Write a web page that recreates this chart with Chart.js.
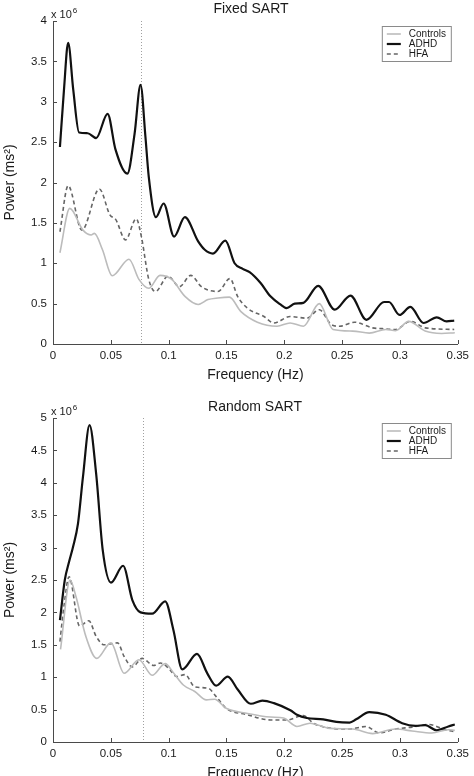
<!DOCTYPE html>
<html lang="en">
<head>
<meta charset="UTF-8">
<title>HRV power spectra - Fixed and Random SART</title>
<script src="https://cdn.jsdelivr.net/npm/chart.js"></script>
<style>
  html, body { margin: 0; padding: 0; background: #fff; overflow: hidden; }
  .panel { position: absolute; left: 0; width: 474px; }
  #fixedPanel { top: 0; height: 390px; }
  #randomPanel { top: 390px; height: 398px; }
</style>
</head>
<body>
<div class="panel" id="fixedPanel"><canvas id="fixedChart" width="474" height="390"></canvas></div>
<div class="panel" id="randomPanel"><canvas id="randomChart" width="474" height="398"></canvas></div>

<script>
// tick labels
const xTicks = [0, 0.05, 0.1, 0.15, 0.2, 0.25, 0.3, 0.35];
const fixedYTicks = [0, 0.5, 1, 1.5, 2, 2.5, 3, 3.5, 4];
const randomYTicks = [0, 0.5, 1, 1.5, 2, 2.5, 3, 3.5, 4, 4.5, 5];

// dotted marker (Hz)
const fixedMarkerHz = 0.0757;
const randomMarkerHz = 0.078;

// Fixed SART, power in units of 10^6 ms^2
const fixedControlsHz = [0.006, 0.0145, 0.0259, 0.033, 0.0358, 0.0427, 0.0512, 0.0657, 0.0743, 0.0828, 0.0925, 0.1027, 0.1141, 0.1255, 0.134, 0.1426, 0.1525, 0.1625, 0.1767, 0.1937, 0.205, 0.2165, 0.2302, 0.2421, 0.2592, 0.2735, 0.2877, 0.2962, 0.3075, 0.3218, 0.336, 0.3474];
const fixedControlsPow = [1.13, 1.68, 1.41, 1.35, 1.37, 1.17, 0.845, 1.05, 0.80, 0.69, 0.85, 0.80, 0.59, 0.49, 0.55, 0.57, 0.58, 0.40, 0.27, 0.22, 0.26, 0.22, 0.50, 0.18, 0.16, 0.135, 0.18, 0.165, 0.28, 0.16, 0.13, 0.14];

const fixedAdhdHz = [0.006, 0.0095, 0.0131, 0.0175, 0.0225, 0.030, 0.0373, 0.0472, 0.054, 0.0643, 0.0705, 0.0757, 0.0799, 0.0828, 0.089, 0.0956, 0.1047, 0.114, 0.1255, 0.131, 0.1383, 0.149, 0.157, 0.164, 0.170, 0.1795, 0.188, 0.1966, 0.202, 0.209, 0.2165, 0.2293, 0.2436, 0.2572, 0.271, 0.2863, 0.2905, 0.2996, 0.309, 0.3204, 0.3318, 0.3403, 0.3469];
const fixedAdhdPow = [2.44, 3.15, 3.73, 3.15, 2.62, 2.61, 2.55, 2.85, 2.41, 2.11, 2.6, 3.21, 2.57, 2.07, 1.57, 1.74, 1.33, 1.57, 1.27, 1.17, 1.12, 1.28, 1.0, 0.93, 0.89, 0.755, 0.59, 0.49, 0.445, 0.5, 0.51, 0.72, 0.425, 0.60, 0.30, 0.52, 0.52, 0.36, 0.46, 0.26, 0.33, 0.28, 0.29];

const fixedHfaHz = [0.006, 0.0131, 0.025, 0.0401, 0.0492, 0.0543, 0.0627, 0.072, 0.0764, 0.0828, 0.0885, 0.0995, 0.1093, 0.1192, 0.1283, 0.1426, 0.153, 0.1596, 0.168, 0.1824, 0.191, 0.205, 0.2194, 0.2302, 0.2407, 0.2478, 0.2606, 0.2763, 0.2848, 0.2962, 0.309, 0.322, 0.3469];
const fixedHfaPow = [1.39, 1.96, 1.41, 1.92, 1.60, 1.54, 1.29, 1.55, 1.33, 0.80, 0.65, 0.84, 0.71, 0.85, 0.71, 0.65, 0.81, 0.59, 0.445, 0.34, 0.26, 0.34, 0.32, 0.425, 0.24, 0.22, 0.27, 0.20, 0.19, 0.18, 0.28, 0.20, 0.18];

// Random SART
const randomControlsHz = [0.0065, 0.0148, 0.0199, 0.0284, 0.0378, 0.0501, 0.0615, 0.0743, 0.0857, 0.097, 0.1041, 0.1127, 0.1226, 0.1326, 0.1397, 0.1497, 0.1682, 0.1881, 0.1994, 0.2109, 0.2222, 0.2393, 0.2592, 0.2763, 0.2962, 0.3104, 0.3275, 0.3418, 0.3474];
const randomControlsPow = [1.43, 2.50, 2.24, 1.63, 1.29, 1.53, 1.06, 1.27, 1.03, 1.21, 1.07, 0.88, 0.78, 0.65, 0.66, 0.52, 0.44, 0.385, 0.37, 0.24, 0.29, 0.21, 0.20, 0.13, 0.20, 0.17, 0.14, 0.19, 0.18];

const randomAdhdHz = [0.006, 0.0102, 0.0139, 0.0173, 0.0216, 0.0259, 0.0316, 0.0373, 0.043, 0.0501, 0.0606, 0.0686, 0.0757, 0.0857, 0.097, 0.1041, 0.1118, 0.1245, 0.1334, 0.1411, 0.1511, 0.1597, 0.171, 0.181, 0.191, 0.2052, 0.2109, 0.2194, 0.2336, 0.245, 0.2564, 0.2621, 0.2735, 0.2877, 0.3019, 0.3133, 0.3218, 0.3318, 0.3418, 0.3474];
const randomAdhdPow = [1.88, 2.5, 2.78, 3.01, 3.37, 4.09, 4.89, 4.14, 2.96, 2.46, 2.72, 2.19, 2.0, 1.98, 2.17, 1.73, 1.12, 1.36, 1.06, 0.87, 1.01, 0.81, 0.59, 0.64, 0.60, 0.49, 0.42, 0.37, 0.35, 0.31, 0.30, 0.35, 0.46, 0.42, 0.29, 0.25, 0.26, 0.18, 0.24, 0.27];

const randomHfaHz = [0.006, 0.0095, 0.0139, 0.023, 0.031, 0.0373, 0.0444, 0.0558, 0.0615, 0.0686, 0.0771, 0.0871, 0.0928, 0.0999, 0.107, 0.1141, 0.1226, 0.1341, 0.1411, 0.1497, 0.1682, 0.1881, 0.2023, 0.2165, 0.2251, 0.2393, 0.2564, 0.2706, 0.282, 0.2962, 0.3104, 0.3247, 0.3389, 0.3474];
const randomHfaPow = [1.55, 2.1, 2.55, 1.79, 1.87, 1.63, 1.50, 1.53, 1.32, 1.16, 1.29, 1.18, 1.22, 1.14, 1.01, 1.04, 0.85, 0.83, 0.70, 0.52, 0.42, 0.34, 0.34, 0.41, 0.29, 0.215, 0.20, 0.24, 0.14, 0.20, 0.23, 0.27, 0.19, 0.16];

const FONT = '"Liberation Sans", Arial, Helvetica, sans-serif';
const AXIS_COLOR = '#4a4a4a';
const TEXT_COLOR = '#1a1a1a';

function toPoints(hz, pow) {
    return hz.map((x, i) => ({ x: x, y: pow[i] }));
}

// MATLAB-ish decorations: inward ticks, dotted marker, title, exponent, legend box
const matlabDecor = {
    id: 'matlabDecor',
    beforeDatasetsDraw(chart, args, opts) {
        const ctx = chart.ctx;
        const area = chart.chartArea;
        const mx = chart.scales.x.getPixelForValue(opts.markerHz);
        ctx.save();
        ctx.strokeStyle = '#a0a0a0';
        ctx.lineWidth = 1;
        ctx.setLineDash([1, 2]);
        ctx.beginPath();
        ctx.moveTo(Math.round(mx) + 0.5, area.top);
        ctx.lineTo(Math.round(mx) + 0.5, area.bottom);
        ctx.stroke();
        ctx.restore();
    },
    afterDraw(chart, args, opts) {
        const ctx = chart.ctx;
        const area = chart.chartArea;
        const xs = chart.scales.x;
        const ys = chart.scales.y;
        ctx.save();

        // inward ticks
        ctx.strokeStyle = AXIS_COLOR;
        ctx.lineWidth = 1;
        ctx.beginPath();
        xTicks.forEach(v => {
            const px = Math.round(xs.getPixelForValue(v)) + 0.5;
            ctx.moveTo(px, area.bottom);
            ctx.lineTo(px, area.bottom - 4);
        });
        opts.yTicks.forEach(v => {
            const py = Math.round(ys.getPixelForValue(v)) + 0.5;
            ctx.moveTo(area.left, py);
            ctx.lineTo(area.left + 4, py);
        });
        ctx.stroke();

        // title
        ctx.fillStyle = TEXT_COLOR;
        ctx.font = '14px ' + FONT;
        ctx.textAlign = 'center';
        ctx.textBaseline = 'middle';
        ctx.fillText(opts.title, opts.titleX, area.top + opts.titleDy);

        // x 10^6
        ctx.textAlign = 'left';
        ctx.font = '11px ' + FONT;
        const ex = area.left - 2;
        const ey = area.top - 6;
        ctx.fillText('x 10', ex, ey);
        const w = ctx.measureText('x 10').width;
        ctx.font = '8px ' + FONT;
        ctx.fillText('6', ex + w + 1, ey - 4);

        // legend box
        const bw = 69, bh = 35;
        const bx = area.right - 7 - bw;
        const by = area.top + 5;
        ctx.fillStyle = '#fff';
        ctx.fillRect(bx, by, bw, bh);
        ctx.strokeStyle = '#8a8a8a';
        ctx.lineWidth = 1;
        ctx.strokeRect(bx + 0.5, by + 0.5, bw, bh);
        ctx.font = '10px ' + FONT;
        ctx.textBaseline = 'middle';
        chart.data.datasets.forEach((ds, i) => {
            const ry = by + 8 + i * 10;
            ctx.save();
            ctx.strokeStyle = ds.borderColor;
            ctx.lineWidth = ds.borderWidth;
            ctx.setLineDash(ds.borderDash || []);
            ctx.beginPath();
            ctx.moveTo(bx + 5, ry);
            ctx.lineTo(bx + 19, ry);
            ctx.stroke();
            ctx.restore();
            ctx.fillStyle = TEXT_COLOR;
            ctx.fillText(ds.label, bx + 27, ry);
        });

        ctx.restore();
    }
};

function makeChart(canvasId, series, yMax, yTicks, decor, padTop) {
    const ctx = document.getElementById(canvasId).getContext('2d');
    return new Chart(ctx, {
        type: 'line',
        data: {
            datasets: [
                {
                    label: 'Controls',
                    data: toPoints(series[0][0], series[0][1]),
                    borderColor: '#bcbcbc',
                    borderWidth: 1.6
                },
                {
                    label: 'ADHD',
                    data: toPoints(series[1][0], series[1][1]),
                    borderColor: '#111111',
                    borderWidth: 2.2
                },
                {
                    label: 'HFA',
                    data: toPoints(series[2][0], series[2][1]),
                    borderColor: '#666666',
                    borderWidth: 1.6,
                    borderDash: [4, 3]
                }
            ]
        },
        options: {
            responsive: false,
            animation: false,
            layout: { padding: { top: padTop, right: 11, left: 0, bottom: 0 } },
            elements: {
                point: { radius: 0 },
                line: { cubicInterpolationMode: 'monotone', fill: false }
            },
            scales: {
                x: {
                    type: 'linear',
                    min: 0,
                    max: 0.35,
                    afterBuildTicks: s => { s.ticks = xTicks.map(v => ({ value: v })); },
                    afterFit: s => { s.height = 46; },
                    grid: { display: false, drawTicks: false },
                    border: { display: true, color: AXIS_COLOR, width: 1 },
                    ticks: {
                        color: TEXT_COLOR,
                        font: { family: FONT, size: 11.5 },
                        padding: 5,
                        maxRotation: 0,
                        autoSkip: false,
                        callback: v => String(v)
                    },
                    title: {
                        display: true,
                        text: 'Frequency (Hz)',
                        color: TEXT_COLOR,
                        font: { family: FONT, size: 14 },
                        padding: { top: 0, bottom: 6 }
                    }
                },
                y: {
                    min: 0,
                    max: yMax,
                    afterBuildTicks: s => { s.ticks = yTicks.map(v => ({ value: v })); },
                    afterFit: s => { s.width = 53; },
                    grid: { display: false, drawTicks: false },
                    border: { display: true, color: AXIS_COLOR, width: 1 },
                    ticks: {
                        color: TEXT_COLOR,
                        font: { family: FONT, size: 11.5 },
                        padding: 6,
                        autoSkip: false,
                        callback: v => String(v)
                    },
                    title: {
                        display: true,
                        text: 'Power (ms\u00B2)',
                        color: TEXT_COLOR,
                        font: { family: FONT, size: 14 },
                        padding: { top: 2, bottom: 0 }
                    }
                }
            },
            plugins: {
                legend: { display: false },
                tooltip: { enabled: false },
                matlabDecor: decor
            }
        },
        plugins: [matlabDecor]
    });
}

makeChart('fixedChart',
    [[fixedControlsHz, fixedControlsPow], [fixedAdhdHz, fixedAdhdPow], [fixedHfaHz, fixedHfaPow]],
    4, fixedYTicks,
    { title: 'Fixed SART', titleX: 251, titleDy: -12, markerHz: fixedMarkerHz, yTicks: fixedYTicks },
    21);

makeChart('randomChart',
    [[randomControlsHz, randomControlsPow], [randomAdhdHz, randomAdhdPow], [randomHfaHz, randomHfaPow]],
    5, randomYTicks,
    { title: 'Random SART', titleX: 255, titleDy: -11, markerHz: randomMarkerHz, yTicks: randomYTicks },
    28);
</script>
</body>
</html>
